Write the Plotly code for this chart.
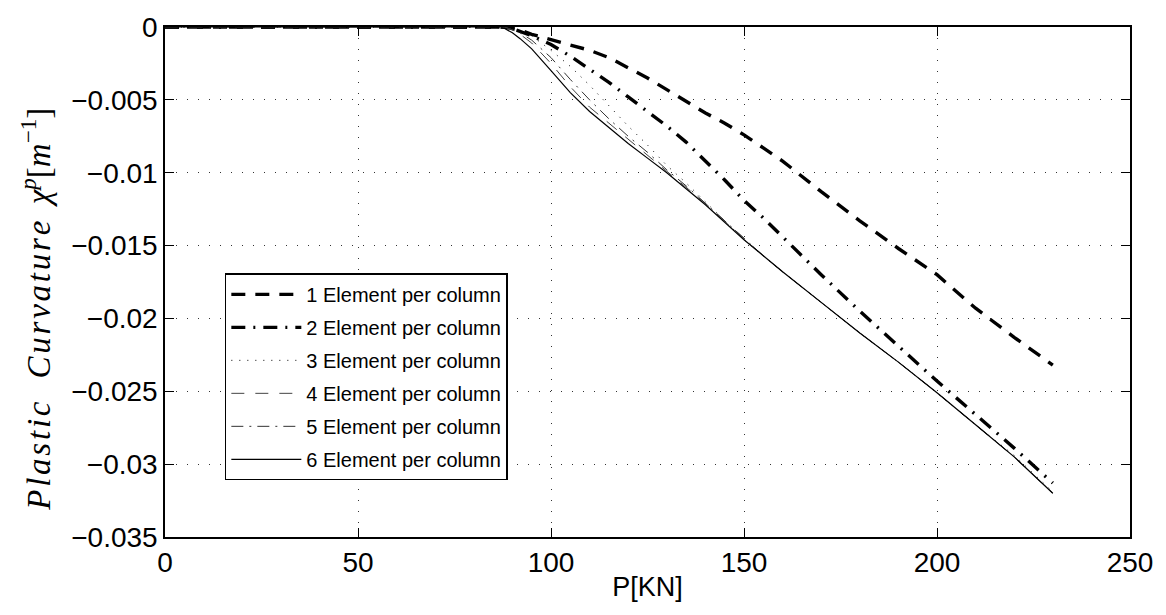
import plotly.graph_objects as go

P = [0, 85, 88, 90, 92, 95, 100, 105, 110, 115, 120, 125, 130, 135, 140, 145,
     150, 155, 160, 170, 180, 190, 200, 210, 220, 230]

c1 = [0, 0, 0, -0.0001, -0.0002, -0.0005, -0.00085, -0.0012, -0.0016, -0.0021, -0.0028,
      -0.0035, -0.0043, -0.0051, -0.0059, -0.0066, -0.0074, -0.0083, -0.0092, -0.0113,
      -0.0133, -0.0152, -0.0170, -0.0193, -0.0213, -0.0232]
c2 = [0, 0, 0, -0.0001, -0.0003, -0.0006, -0.0012, -0.0020, -0.0029, -0.0038, -0.0048,
      -0.0058, -0.0068, -0.0079, -0.0092, -0.0105, -0.0119, -0.0131, -0.0144, -0.0170,
      -0.0195, -0.0219, -0.0243, -0.0266, -0.0289, -0.0313]
c3 = [0, 0, 0, -0.0001, -0.0003, -0.0006, -0.0016, -0.0027, -0.0040, -0.0054, -0.0068,
      -0.0081, -0.0095, -0.0107, -0.0120, -0.0133, -0.0146, -0.0157, -0.0168, -0.0189,
      -0.0210, -0.0230, -0.0251, -0.0273, -0.0294, -0.0319]
c4 = [0, 0, 0, -0.0002, -0.0005, -0.0011, -0.0025, -0.0041, -0.0055, -0.0066, -0.0077,
      -0.0088, -0.0099, -0.0110, -0.0121, -0.0133, -0.0145, -0.0157, -0.0168, -0.0189,
      -0.0210, -0.0230, -0.0251, -0.0273, -0.0295, -0.0320]
c5 = [0, 0, 0, -0.0002, -0.0004, -0.0009, -0.0021, -0.0036, -0.0050, -0.0063, -0.0075,
      -0.0086, -0.0098, -0.0109, -0.0121, -0.0133, -0.0145, -0.0157, -0.0168, -0.0189,
      -0.0210, -0.0230, -0.0251, -0.0273, -0.0295, -0.0320]
c6 = [0, 0, -0.0001, -0.0004, -0.0008, -0.0015, -0.0030, -0.0045, -0.0058, -0.0069, -0.0080,
      -0.0090, -0.0100, -0.0111, -0.0122, -0.0134, -0.0146, -0.0157, -0.0168, -0.0189,
      -0.0210, -0.0230, -0.0251, -0.0273, -0.0295, -0.0320]

names = ["1 Element per column", "2 Element per column", "3 Element per column",
         "4 Element per column", "5 Element per column", "6 Element per column"]

xticks = [0, 50, 100, 150, 200, 250]
xticklabels = ["0", "50", "100", "150", "200", "250"]
yticks = [0, -0.005, -0.01, -0.015, -0.02, -0.025, -0.03, -0.035]
yticklabels = ["0", "\u22120.005", "\u22120.01", "\u22120.015", "\u22120.02",
               "\u22120.025", "\u22120.03", "\u22120.035"]

styles = [
    dict(color="black", width=3.4, dash="14px,10px"),
    dict(color="black", width=3.4, dash="14px,8px,2px,8px"),
    dict(color="black", width=1, dash="1px,7px"),
    dict(color="#444", width=1, dash="13px,11px"),
    dict(color="#333", width=1, dash="12px,6px,2px,6px"),
    dict(color="black", width=1.2, dash="solid"),
]

fig = go.Figure()
for i, (ys, nm, st) in enumerate(zip([c1, c2, c3, c4, c5, c6], names, styles)):
    fig.add_trace(go.Scatter(x=P, y=ys, mode="lines", name=nm, line=st,
                             legendgroup=str(i)))

axis_common = dict(
    showline=True, linecolor="black", linewidth=1.5, mirror="ticks",
    ticks="inside", ticklen=9, tickwidth=1, tickcolor="black",
    showgrid=True, gridcolor="#333", gridwidth=1, griddash="1px,10px",
    zeroline=False,
    tickfont=dict(family="Liberation Sans, Arial, sans-serif", size=28, color="black"),
)

fig.update_xaxes(range=[0, 250], tickvals=xticks, ticktext=xticklabels,
                 title=dict(text="P[KN]", font=dict(family="Liberation Sans, Arial", size=27,
                                                     color="black"), standoff=0),
                 **axis_common)
fig.update_yaxes(range=[-0.035, 0], tickvals=yticks, ticktext=yticklabels,
                 **axis_common)

hs = "\u200a"
def spaced(w):
    return hs.join(list(w))

ytitle = ("<i>" + spaced("Plastic") + "</i>\u2002\u2009<i>" + spaced("Curvature")
          + "</i>\u2002<i>\u03c7<sup>p</sup></i>[<i>m</i><sup>\u22121</sup>]")

fig.add_annotation(text=ytitle, xref="paper", yref="paper", x=-0.134, y=0.447,
                   xanchor="center", yanchor="middle", textangle=-90, showarrow=False,
                   font=dict(family="Liberation Serif, Times New Roman, serif", size=33,
                             color="black"))

fig.update_layout(
    width=1166, height=615,
    margin=dict(l=165, r=36, t=18, b=78),
    plot_bgcolor="white", paper_bgcolor="white",
    showlegend=True,
    legend=dict(x=0.062, y=0.517, xanchor="left", yanchor="top",
                bgcolor="white", bordercolor="black", borderwidth=1.5,
                font=dict(family="Liberation Sans, Arial, sans-serif", size=20, color="black"),
                tracegroupgap=4, itemwidth=70, traceorder="grouped"),
)

fig.write_html("out.html")
